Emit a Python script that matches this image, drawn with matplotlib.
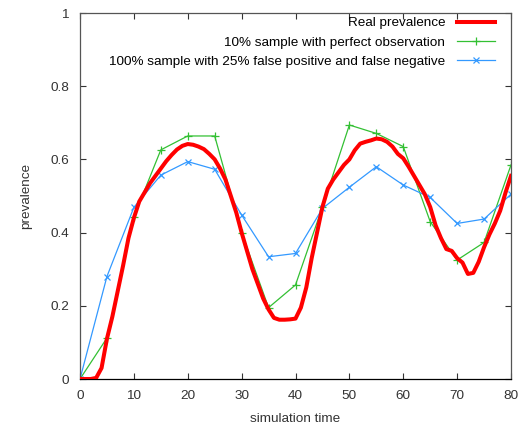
import matplotlib
matplotlib.use("Agg")
import matplotlib.pyplot as plt

# Real prevalence (every time unit)
real_t = list(range(0, 81))
real_p = [0.0, 0.0, 0.0, 0.003, 0.03, 0.11, 0.17, 0.24, 0.31, 0.385,
          0.44, 0.485, 0.51, 0.535, 0.555, 0.575, 0.595, 0.612, 0.627, 0.637,
          0.642, 0.64, 0.635, 0.628, 0.615, 0.6, 0.575, 0.545, 0.5, 0.455,
          0.4, 0.35, 0.3, 0.26, 0.22, 0.19, 0.167, 0.162, 0.162, 0.163,
          0.165, 0.195, 0.25, 0.33, 0.40, 0.47, 0.52, 0.545, 0.565, 0.585,
          0.60, 0.625, 0.643, 0.648, 0.652, 0.657, 0.655, 0.648, 0.635, 0.615,
          0.603, 0.58, 0.555, 0.53, 0.505, 0.47, 0.42, 0.385, 0.355, 0.35,
          0.33, 0.318, 0.287, 0.29, 0.32, 0.36, 0.395, 0.425, 0.46, 0.51,
          0.555]

# sampled series (every 5 time units)
sample_t = list(range(0, 81, 5))
sample10 = [0.0, 0.112, 0.443, 0.626, 0.664, 0.664, 0.40, 0.195, 0.257,
            0.47, 0.694, 0.671, 0.635, 0.43, 0.325, 0.373, 0.585]
sample100 = [0.0, 0.28, 0.469, 0.557, 0.594, 0.573, 0.448, 0.334, 0.343,
             0.466, 0.524, 0.58, 0.53, 0.496, 0.425, 0.437, 0.505]

plt.rcParams["font.family"] = ["Liberation Sans", "DejaVu Sans"]
plt.rcParams["font.size"] = 9.7

fig = plt.figure(figsize=(5.23, 4.30), dpi=100)
ax = fig.add_axes([80 / 523, 1 - 379 / 430, 431 / 523, 366 / 430])

ax.plot(real_t, real_p, color="#ff0000", lw=2.9, label="Real prevalence", zorder=3)
ax.plot(sample_t, sample10, color="#33c033", lw=0.9, marker="+", ms=6, mew=0.9,
        label="10% sample with perfect observation", zorder=2)
ax.plot(sample_t, sample100, color="#3399ff", lw=0.9, marker="x", ms=5, mew=0.9,
        label="100% sample with 25% false positive and false negative", zorder=2)

ax.set_xlim(0, 80)
ax.set_ylim(0, 1)
ax.set_xticks(range(0, 81, 10))
ax.set_yticks([0, 0.2, 0.4, 0.6, 0.8, 1])
ax.set_yticklabels(["0", "0.2", "0.4", "0.6", "0.8", "1"])
ax.tick_params(direction="in", length=4, width=0.8, top=True, right=True,
               pad=8, colors="#333333", labelcolor="#333333")
for s in ax.spines.values():
    s.set_color("#555555")
    s.set_linewidth(0.9)
ax.spines["bottom"].set_color("#000000")

ax.set_xlabel("simulation time", color="#333333", labelpad=8)
ax.set_ylabel("prevalence", color="#333333", labelpad=13)

ax.legend(loc="upper right", frameon=False, markerfirst=False,
          handlelength=2.8, handletextpad=0.9, labelspacing=0.5,
          borderpad=0, borderaxespad=0.0,
          bbox_to_anchor=(1 - 16 / 431, 1 - 4 / 366))

fig.savefig("out.png", dpi=100)
